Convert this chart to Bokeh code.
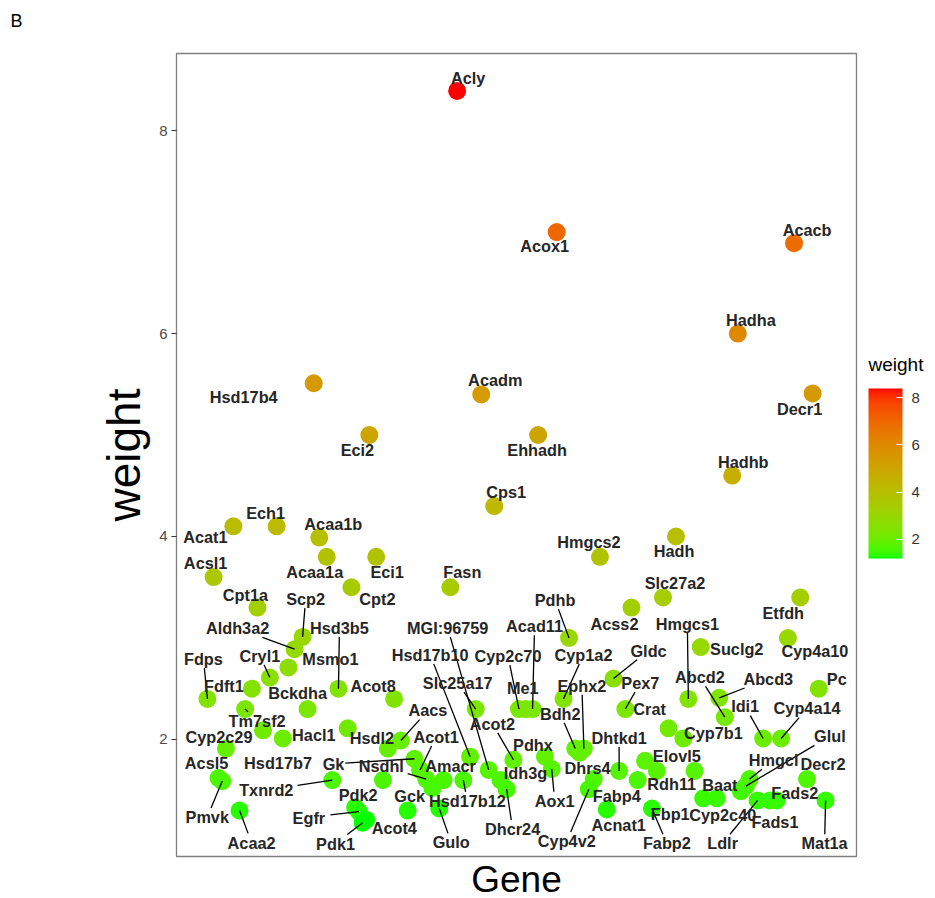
import numpy as np
from bokeh.plotting import figure
from bokeh.models import (ColumnDataSource, LinearColorMapper, ColorBar, FixedTicker,
                          Range1d)
from bokeh.core.properties import value
from bokeh.embed import file_html
from bokeh.resources import INLINE

# ---------------- data ----------------
genes = ["Acly", "Acox1", "Acacb", "Hadha", "Decr1", "Hadhb", "Ehhadh", "Hsd17b4", "Acadm", "Eci2",
         "Cps1", "Acat1", "Ech1", "Acaa1b", "Acaa1a", "Eci1", "Acsl1", "Cpt2", "Fasn", "Cpt1a",
         "Hadh", "Hmgcs2", "Slc27a2", "Acss2", "Etfdh", "Cyp4a10", "Suclg2", "Hmgcs1", "Pdhb", "Scp2",
         "Aldh3a2", "Hsd3b5", "Msmo1", "Cryl1", "Fdps", "Fdft1", "Bckdha", "Acot8", "Tm7sf2", "Hacl1",
         "Hsd17b7", "Cyp2c29", "Acsl5", "Pmvk", "Acaa2", "Txnrd2", "Gk", "Nsdhl", "Acot1", "Hsdl2",
         "Aacs", "Amacr", "Hsd17b12", "Gck", "Gulo", "Pdk2", "Egfr", "Acot4", "Pdk1", "MGI:96759",
         "Hsd17b10", "Slc25a17", "Acot2", "Idh3g", "Dhcr24", "Pdhx", "Aox1", "Cyp2c70", "Me1", "Acad11",
         "Cyp1a2", "Bdh2", "Ephx2", "Dhrs4", "Dhtkd1", "Fabp4", "Cyp4v2", "Acnat1", "Gldc", "Pex7",
         "Crat", "Cyp7b1", "Abcd2", "Abcd3", "Idi1", "Cyp4a14", "Pc", "Glul", "Hmgcl", "Baat",
         "Decr2", "Fads2", "Fads1", "Ldlr", "Mat1a", "Cyp2c40", "Fbp1", "Fabp2", "Elovl5", "Rdh11"]

gene_pos = [40.4, 56.5, 94.9, 85.8, 97.9, 84.9, 53.5, 17.2, 44.3, 26.2,
            46.4, 4.2, 11.2, 18.1, 19.3, 27.3, 1.0, 23.3, 39.3, 8.1,
            75.8, 63.5, 73.7, 68.6, 95.9, 93.9, 79.8, 77.8, 58.5, 15.4,
            14.1, 21.2, 13.1, 10.1, 0.0, 7.2, 16.2, 30.2, 6.1, 12.2,
            9.0, 3.0, 1.8, 2.4, 5.2, 20.2, 33.5, 35.4, 34.4, 29.2,
            31.3, 38.2, 41.4, 32.4, 37.5, 23.9, 24.5, 25.7, 25.1, 45.5,
            42.5, 43.4, 49.5, 47.4, 48.4, 54.6, 55.7, 50.4, 51.5, 52.6,
            57.6, 59.5, 60.9, 60.2, 66.6, 62.5, 61.7, 64.6, 65.7, 67.6,
            74.6, 77.0, 83.7, 82.8, 89.9, 92.8, 98.9, 87.1, 87.7, 86.3,
            97.0, 92.1, 91.0, 89.0, 100.0, 82.4, 80.2, 71.9, 72.7, 69.6]

weight = [8.39, 7.00, 6.89, 6.00, 5.41, 4.60, 5.00, 5.51, 5.40, 5.00,
          4.30, 4.10, 4.10, 3.99, 3.80, 3.80, 3.60, 3.50, 3.50, 3.30,
          4.00, 3.80, 3.40, 3.30, 3.40, 3.00, 2.91, 2.40, 3.00, 3.01,
          2.89, 2.50, 2.71, 2.61, 2.40, 2.50, 2.30, 2.40, 2.30, 2.01,
          2.09, 1.91, 1.62, 1.59, 1.30, 1.60, 1.81, 1.61, 1.70, 1.91,
          1.99, 1.60, 1.60, 1.30, 1.32, 1.33, 1.29, 1.21, 1.18, 1.70,
          1.83, 2.30, 1.80, 1.60, 1.51, 1.83, 1.71, 2.30, 2.30, 2.30,
          2.40, 1.91, 1.91, 1.87, 1.69, 1.61, 1.51, 1.31, 2.60, 2.30,
          2.11, 2.01, 2.22, 2.41, 2.01, 2.01, 2.50, 1.54, 1.61, 1.49,
          1.61, 1.40, 1.40, 1.40, 1.40, 1.42, 1.42, 1.32, 1.69, 1.60]

# points whose labels were dropped by the label repulsion
unlabeled_pos = [22.7, 28.4, 36.4, 70.8, 78.8]
unlabeled_weight = [2.11, 1.60, 1.52, 1.79, 1.69]

y_ticks = [2, 4, 6, 8]

# ---------------- label layout (pixels: right / down from the point) ----------------
label_dx = [11, -12, 13, 13, -13, 11, -1, -70, 14, -12,
            12, -28, -11, 14, -12, 11, -8, 26, 12, -12,
            -2, -11, 12, -17, -17, 27, 36, -1, -14, 3,
            -57, 1, 42, -10, -4, -28, -10, -21, 12, 31,
            15, -7, -12, -15, 12, -66, -81, -45, 16, -16,
            27, 7, 4, 2, 12, 3, -50, 28, -27, -41,
            -40, -18, -21, 25, 6, -12, 3, -11, -3, 2,
            20, -15, -2, 8, 0, 23, -22, 12, 35, 15,
            -19, 30, -25, 49, -18, 26, 18, 84, 24, -21,
            16, 18, 5, -35, -1, 6, -33, 15, 20, 34]
label_dy = [-13, 14, -13, -14, 16, -14, 15, 14, -14, 15,
            -14, 11, -13, -14, 15, 15, -14, 12, -15, -13,
            15, -15, -14, 16, 16, 13, 2, -75, -38, -38,
            -21, -61, -8, -22, -40, -3, -16, -13, 12, -3,
            33, -12, -15, 36, 32, 10, 5, -13, -33, -11,
            -30, -14, 21, -15, 34, -12, 6, 8, 21, -142,
            -102, -26, -36, -7, 40, -12, 32, -53, -21, -83,
            -44, -35, -63, 15, -33, 17, 52, 15, -28, -26,
            -19, -5, -40, -19, -32, -30, -10, -50, -19, -6,
            -15, -7, 22, 43, 43, 17, 16, 35, -15, 4]
label_seg = [0, 0, 0, 0, 0, 0, 0, 0, 0, 0,
             0, 0, 0, 0, 0, 0, 0, 0, 0, 0,
             0, 0, 0, 0, 0, 0, 0, 1, 1, 1,
             1, 1, 0, 1, 1, 0, 0, 0, 1, 0,
             0, 0, 0, 1, 1, 1, 1, 1, 1, 0,
             1, 0, 1, 0, 1, 0, 1, 0, 1, 1,
             1, 1, 1, 0, 1, 0, 1, 1, 0, 1,
             1, 1, 1, 0, 1, 0, 1, 0, 1, 1,
             0, 0, 1, 1, 1, 1, 0, 1, 1, 0,
             0, 0, 0, 1, 1, 0, 0, 1, 0, 0]

# ---------------- geometry ----------------
X0, X1 = -5.0, 105.0
Y0, Y1 = 0.847, 8.759
FRAME_W, FRAME_H = 680, 803
px_x = FRAME_W / (X1 - X0)
px_y = FRAME_H / (Y1 - Y0)
FS = 16.3

# ---------------- colour scale: green -> red, interpolated in CIE Lab ----------------
def _to_lab(rgb):
    c = np.asarray(rgb, float) / 255.0
    c = np.where(c <= 0.04045, c / 12.92, ((c + 0.055) / 1.055) ** 2.4)
    M = np.array([[0.4124564, 0.3575761, 0.1804375],
                  [0.2126729, 0.7151522, 0.0721750],
                  [0.0193339, 0.1191920, 0.9503041]])
    xyz = M @ c / np.array([0.95047, 1.0, 1.08883])
    f = np.where(xyz > 0.008856, np.cbrt(xyz), 7.787 * xyz + 16 / 116)
    return np.array([116 * f[1] - 16, 500 * (f[0] - f[1]), 200 * (f[1] - f[2])])

def _to_hex(lab):
    L, a, b = lab
    fy = (L + 16) / 116
    fx = fy + a / 500
    fz = fy - b / 200
    f = np.array([fx, fy, fz])
    xyz = np.where(f ** 3 > 0.008856, f ** 3, (f - 16 / 116) / 7.787) * np.array([0.95047, 1.0, 1.08883])
    Minv = np.array([[3.2404542, -1.5371385, -0.4985314],
                     [-0.9692660, 1.8760108, 0.0415560],
                     [0.0556434, -0.2040259, 1.0572252]])
    c = Minv @ xyz
    c = np.clip(c, 0, 1)
    c = np.where(c <= 0.0031308, 12.92 * c, 1.055 * c ** (1 / 2.4) - 0.055)
    r, g, bb = (np.clip(np.round(c * 255), 0, 255)).astype(int)
    return "#%02x%02x%02x" % (r, g, bb)

lab_lo, lab_hi = _to_lab([0, 255, 0]), _to_lab([255, 0, 0])
palette = [_to_hex(lab_lo + (lab_hi - lab_lo) * t) for t in np.linspace(0, 1, 256)]
all_w = weight + unlabeled_weight
mapper = LinearColorMapper(palette=palette, low=min(all_w), high=max(all_w))

# ---------------- label & segment positions ----------------
lab_x, lab_y = [], []
sx0, sy0, sx1, sy1 = [], [], [], []
for g, x, w, dx, dy, s in zip(genes, gene_pos, weight, label_dx, label_dy, label_seg):
    lx = x + dx / px_x
    ly = w - dy / px_y
    lab_x.append(lx)
    lab_y.append(ly)
    if s:
        hw = len(g) * 0.30 * FS + 2
        hh = FS * 0.5 + 1
        ddx, ddy = -dx, -dy
        t = min(hw / abs(ddx) if ddx else 1e9, hh / abs(ddy) if ddy else 1e9)
        px0, py0 = t * ddx, t * ddy
        sx0.append(lx + px0 / px_x)
        sy0.append(ly - py0 / px_y)
        sx1.append(x)
        sy1.append(w)

pts = ColumnDataSource(dict(x=gene_pos + unlabeled_pos, w=all_w))
labs = ColumnDataSource(dict(x=lab_x, y=lab_y, t=genes))
segs = ColumnDataSource(dict(x0=sx0, y0=sy0, x1=sx1, y1=sy1))

# ---------------- figure ----------------
p = figure(frame_width=FRAME_W, frame_height=FRAME_H, x_range=Range1d(X0, X1), y_range=Range1d(Y0, Y1),
           output_backend="svg", toolbar_location=None,
           min_border_left=176, min_border_right=79, min_border_top=53, min_border_bottom=40)
p.background_fill_color = "white"
p.border_fill_color = "white"
p.outline_line_color = "#7f7f7f"
p.outline_line_width = 1.3
p.xgrid.visible = False
p.ygrid.visible = False

p.scatter("x", "w", source=pts, size=18, line_color=None,
          fill_color={"field": "w", "transform": mapper})
p.segment("x0", "y0", "x1", "y1", source=segs, line_color="black", line_width=1.3)
p.text("x", "y", text="t", source=labs, text_font=value("Liberation Sans"),
       text_font_style="bold", text_font_size=f"{FS}px", text_color="#262626",
       text_align="center", text_baseline="middle")

# axes
p.yaxis.ticker = FixedTicker(ticks=y_ticks)
p.yaxis.axis_line_color = None
p.yaxis.major_tick_in = 0
p.yaxis.major_tick_out = 5
p.yaxis.minor_tick_line_color = None
p.yaxis.major_tick_line_color = "#333333"
p.yaxis.major_label_text_font = "Liberation Sans"
p.yaxis.major_label_text_font_size = "15px"
p.yaxis.major_label_text_color = "#4d4d4d"
p.yaxis.major_label_standoff = 4
p.yaxis.axis_label = "weight"
p.yaxis.axis_label_text_font = "Liberation Sans"
p.yaxis.axis_label_text_font_style = "normal"
p.yaxis.axis_label_text_font_size = "46px"
p.yaxis.axis_label_text_color = "black"
p.yaxis.axis_label_standoff = 6

p.xaxis.ticker = FixedTicker(ticks=[])
p.xaxis.axis_line_color = None
p.xaxis.major_tick_line_color = None
p.xaxis.major_tick_out = 0
p.xaxis.major_tick_in = 0
p.xaxis.minor_tick_line_color = None
p.xaxis.major_label_text_font_size = "0px"
p.xaxis.major_label_standoff = 0
p.xaxis.axis_label = "Gene"
p.xaxis.axis_label_text_font = "Liberation Sans"
p.xaxis.axis_label_text_font_style = "normal"
p.xaxis.axis_label_text_font_size = "37px"
p.xaxis.axis_label_text_color = "black"
p.xaxis.axis_label_standoff = 2

cb = ColorBar(color_mapper=mapper, ticker=FixedTicker(ticks=y_ticks), width=34, height=170,
              location=(692, 298), margin=0, padding=0, title=None,
              major_label_text_font="Liberation Sans", major_label_text_font_size="15px",
              major_label_text_color="#333333", label_standoff=9,
              major_tick_line_color="white", major_tick_in=6, major_tick_out=0,
              bar_line_color=None, background_fill_color=None, border_line_color=None)
p.add_layout(cb, "center")


def text_holder(text, loc, size):
    """An invisible horizontal colour bar used only to place a title text outside the frame."""
    return ColorBar(color_mapper=mapper, orientation="horizontal", ticker=FixedTicker(ticks=[]),
                    width=60, height=1, scale_alpha=0, location=loc, margin=0, padding=0,
                    title=text, title_text_font="Liberation Sans", title_text_font_size=size,
                    title_text_font_style="normal", title_text_color="black", title_standoff=2,
                    major_label_text_font_size="1px", major_tick_line_color=None,
                    minor_tick_line_color=None, bar_line_color=None,
                    background_fill_color=None, border_line_color=None)


# colour-bar title and the panel tag "B"
p.add_layout(text_holder("weight", (692, 480), "19px"), "center")
p.add_layout(text_holder("B", (-166, 824), "18px"), "center")

open("out.html", "w").write(file_html(p, INLINE))
